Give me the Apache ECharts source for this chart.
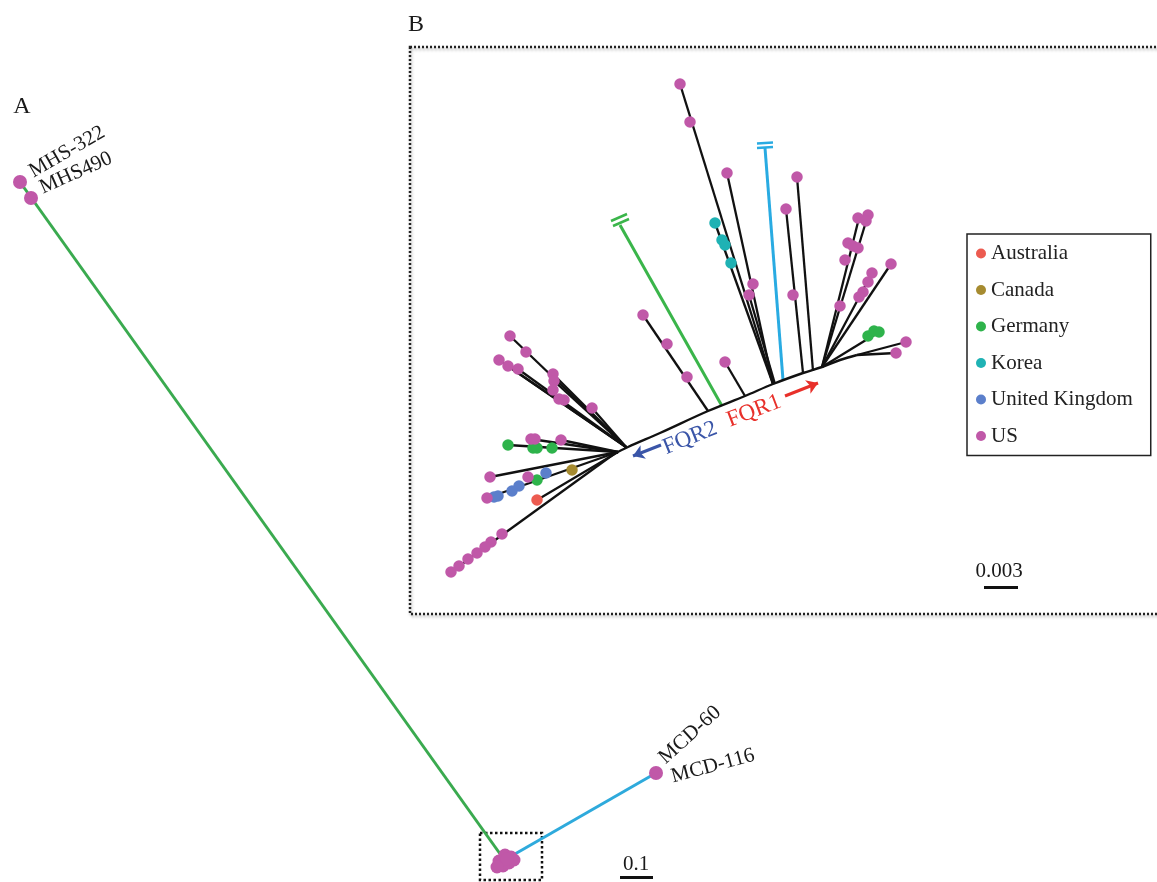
<!DOCTYPE html>
<html><head><meta charset="utf-8">
<script src="https://cdn.jsdelivr.net/npm/echarts@6/dist/echarts.min.js"></script>
<style>html,body{margin:0;padding:0;background:#fff}#c{width:1157px;height:882px}</style>
</head><body><div id="c"></div>
<script>
// ---- legend categories ----
const countries = ['Australia','Canada','Germany','Korea','United Kingdom','US'];
const countryColors = ['#ec5b50','#a68b30','#2eb34b','#1fb2b4','#5b7fcb','#c058a8'];

// ---- tree nodes (layout units), panel B ----
const australiaNodes = [[537,500]];
const canadaNodes = [[572,470]];
const germanyNodes = [[508,445],[533,448],[537,448],[552,448],[537,480],[868,336],[874,331],[879,332]];
const koreaNodes = [[715,223],[722,240],[725,245],[731,263]];
const ukNodes = [[546,473],[519,486],[512,491],[498,496],[494,497]];
const usNodes = [
  [680,84],[690,122],[727,173],[797,177],[786,209],[753,284],[749,295],[793,295],
  [643,315],[667,344],[687,377],[725,362],
  [858,218],[868,215],[866,221],[848,243],[853,246],[858,248],[845,260],[840,306],
  [891,264],[872,273],[868,282],[863,292],[859,297],[906,342],[896,353],
  [510,336],[526,352],[499,360],[508,366],[518,369],[553,374],[554,381],[553,390],[559,399],[564,400],[592,408],
  [531,439],[535,439],[561,440],[490,477],[528,477],[487,498],
  [502,534],[491,542],[485,547],[477,553],[468,559],[459,566],[451,572]
];
// panel A nodes
const usNodesA = [[20,182],[31,198],[656,773]];
const usClusterA = [[499,861],[505,855],[511,857],[503,866],[509,863],[514,860],[497,867],[507,859]];

// ---- branches ----
const backbone = [[612,455],[628,447],[660,433],[708,411],[745,396],[773,384],[803,373],[822,367],[840,360],[857,355]];
const blackBranches = [
  [[626,447],[510,336]],[[626,447],[499,360]],[[626,447],[508,366]],[[626,447],[518,369]],
  [[626,447],[553,374]],[[626,447],[554,381]],[[626,447],[592,408]],
  [[618,452],[508,445]],[[618,452],[531,439]],[[618,452],[561,440]],
  [[618,452],[490,477]],[[618,452],[487,498]],[[618,452],[537,500]],[[614,454],[451,572]],
  [[708,411],[643,315]],[[745,396],[725,362]],
  [[773,384],[680,84]],[[773,384],[715,223]],[[773,384],[727,173]],[[775,384],[749,295]],
  [[803,373],[786,209]],[[813,371],[797,177]],
  [[822,367],[859,218]],[[822,367],[868,215]],[[822,367],[891,264]],[[822,367],[872,273]],
  [[822,367],[879,332]],[[857,355],[906,342]],[[857,355],[896,353]]
];
const greenBranchB = [[[620,225],[722,406]]];
const blueBranchB = [[[765,148],[783,380]]];
const greenBreak = [[[611,221],[627,214]],[[613,226],[629,219]]];
const blueBreak = [[[757,143.5],[773,142.5]],[[757,148],[773,147]]];
const greenBranchA = [[[20,182],[503,858]]];
const blueBranchA = [[[508,858],[656,773]]];
const scaleBars = [[[620,877],[653,877]],[[984,587],[1018,587]]];
const arrowFQR2 = [[[661,445],[633,456]]];
const arrowFQR1 = [[[785,396],[818,383]]];

const SERIF = '"Liberation Serif","DejaVu Serif",serif';
const chart = echarts.init(document.getElementById('c'));

function seg(data, color, width, extra) {
  return Object.assign({
    type:'lines', coordinateSystem:'cartesian2d', silent:true, z:2,
    lineStyle:{color:color, width:width, opacity:1, curveness:0},
    data:data.map(c => ({coords:c}))
  }, extra || {});
}
const nodeSets = [australiaNodes, canadaNodes, germanyNodes, koreaNodes, ukNodes, usNodes];

const series = [
  {type:'line', data:backbone, smooth:0.35, showSymbol:false, silent:true, z:2,
   lineStyle:{color:'#111', width:2.4}},
  seg(blackBranches, '#111', 2.3),
  seg(greenBranchB, '#3ab54a', 3),
  seg(blueBranchB, '#29abe2', 3),
  seg(greenBreak, '#3ab54a', 2.5),
  seg(blueBreak, '#29abe2', 2.5),
  seg(greenBranchA, '#3aaa4f', 3),
  seg(blueBranchA, '#2eaadc', 3),
  seg(scaleBars, '#111', 3),
  seg(arrowFQR2, '#3a55a8', 3, {symbol:['none','arrow'], symbolSize:11}),
  seg(arrowFQR1, '#e8302a', 3, {symbol:['none','arrow'], symbolSize:11})
];
nodeSets.forEach((d, i) => {
  series.push({type:'scatter', name:countries[i], data:d, symbol:'circle', symbolSize:11.5,
    itemStyle:{color:countryColors[i], opacity:1}, z:5, silent:true});
});
series.push({type:'scatter', name:'US', data:usNodesA, symbolSize:14,
  itemStyle:{color:countryColors[5], opacity:1}, z:5, silent:true});
series.push({type:'scatter', name:'US', data:usClusterA, symbolSize:13,
  itemStyle:{color:countryColors[5], opacity:1}, z:5, silent:true});

function txt(s, x, y, rotDeg, size, color) {
  return {type:'text', x:x, y:y, rotation:(rotDeg||0)*Math.PI/180, z:10,
    style:{text:s, fill:color||'#1a1a1a', font:(size||21)+'px '+SERIF, align:'center', verticalAlign:'middle'}};
}

chart.setOption({
  animation:false,
  backgroundColor:'#fff',
  grid:{left:0, right:0, top:0, bottom:0},
  xAxis:{type:'value', min:0, max:1157, show:false},
  yAxis:{type:'value', min:0, max:882, inverse:true, show:false},
  legend:{
    data:countries, orient:'vertical', left:967, top:234,
    padding:[9,18,9,9], itemGap:15.5, itemWidth:10, itemHeight:10, icon:'circle',
    borderColor:'#222', borderWidth:1.5, backgroundColor:'#fff',
    textStyle:{fontFamily:SERIF, fontSize:21, color:'#222', lineHeight:20},
    selectedMode:false
  },
  graphic:[
    {type:'rect', shape:{x:410, y:47, width:800, height:567}, z:1,
     style:{fill:'none', stroke:'#222', lineWidth:2.5, lineDash:[2,2],
            shadowBlur:3, shadowColor:'rgba(0,0,0,0.35)', shadowOffsetX:1, shadowOffsetY:2}},
    {type:'rect', shape:{x:480, y:833, width:62, height:47}, z:1,
     style:{fill:'none', stroke:'#111', lineWidth:2.5, lineDash:[2.5,2.5]}},
    txt('A', 22, 107, 0, 24),
    txt('B', 416, 25, 0, 24),
    txt('MHS-322', 67, 152, 30, 21),
    txt('MHS490', 76, 173, 24, 21),
    txt('MCD-60', 690, 735, 42, 21),
    txt('MCD-116', 713, 766, 15, 21),
    txt('FQR2', 690, 438, 22, 23, '#3a55a8'),
    txt('FQR1', 754, 411, 21, 23, '#e8302a'),
    txt('0.1', 636, 864, 0, 21),
    txt('0.003', 999, 571, 0, 21)
  ],
  series:series
});
</script></body></html>
